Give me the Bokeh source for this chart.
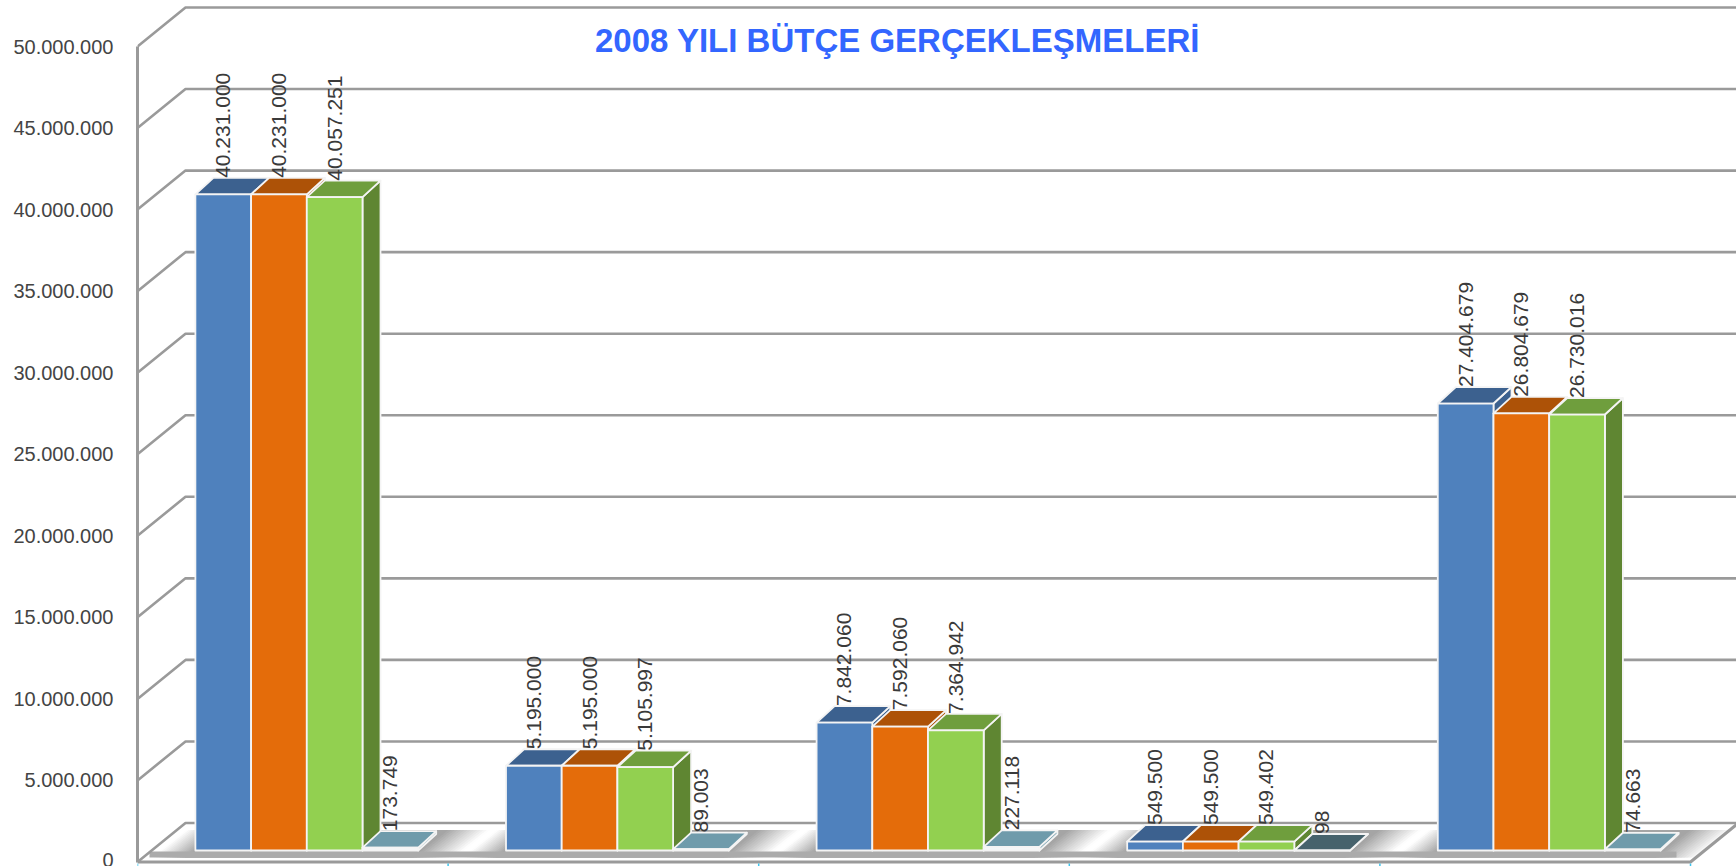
from bokeh.plotting import figure
from bokeh.models import Range1d, FixedTicker, Label
from bokeh.embed import file_html
from bokeh.resources import INLINE
from bokeh.core.properties import value
import math

# ---- data ----
title_text = "2008 YILI BÜTÇE GERÇEKLEŞMELERİ"
categories = [0, 1, 2, 3, 4]
series_a = [40231000, 5195000, 7842060, 549500, 27404679]
series_b = [40231000, 5195000, 7592060, 549500, 26804679]
series_c = [40057251, 5105997, 7364942, 549402, 26730016]
series_d = [173749, 89003, 227118, 98, 74663]
tick_values = [0, 5000000, 10000000, 15000000, 20000000, 25000000,
               30000000, 35000000, 40000000, 45000000, 50000000]

front_colors = ["#4F81BD", "#E46C0A", "#92D050", "#F4F7F8"]
top_colors = ["#3C618F", "#AD5207", "#6F9E3D", "#6F9BAB"]
side_colors = ["#3C618F", "#AD5207", "#5F8632", "#6F9BAB"]
tile_dark = "#46626C"


def fmt(v):
    return f"{v:,}".replace(",", ".")


# ---- scales: pixels per unit of data ----
PX_PER_CAT = 310.6
PX_PER_VAL = 16.31e-6
W, H = 1736, 866
LEFT = 137
ZERO_PX = 861.5


def ux(px):
    return px / PX_PER_CAT


def uy(px):
    return px / PX_PER_VAL


BAR_W = ux(55.7)
BAR_DX, BAR_DV = ux(18), uy(16.5)
PLANE_DX, PLANE_DV = ux(14), uy(11.5)
WALL_DX, WALL_DV = ux(48), uy(39)

p = figure(width=W, height=H, output_backend="svg", toolbar_location=None,
           x_range=Range1d(-0.5, -0.5 + (W - LEFT) / PX_PER_CAT),
           y_range=Range1d(-(H - ZERO_PX) / PX_PER_VAL, ZERO_PX / PX_PER_VAL),
           min_border_left=LEFT, min_border_right=0, min_border_top=0, min_border_bottom=0,
           outline_line_color=None, background_fill_color="white", border_fill_color=None)
p.grid.visible = False
p.xaxis.visible = False

ax = p.yaxis[0]
ax.ticker = FixedTicker(ticks=tick_values)
ax.major_label_overrides = {v: fmt(v) for v in tick_values}
ax.major_label_text_font = "Liberation Sans"
ax.major_label_text_font_size = "20px"
ax.major_label_text_color = "#444444"
ax.major_label_standoff = 18
ax.major_tick_line_color = None
ax.minor_tick_line_color = None
ax.axis_line_color = "#9A9A9A"
ax.axis_line_width = 3
ax.bounds = (0, 50000000)

# ---- floor shadows: soft edges made of nested grey shapes, outermost first ----
STEPS = 14
band_xs, band_ys, band_cols = [], [], []
for i in categories:
    c = i + PLANE_DX
    left = c - 2 * BAR_W
    right = c + 2 * BAR_W
    y_low = uy(4.5)
    y_high = uy(32)
    slant = ux(35)
    for k in range(STEPS, 0, -1):
        l = left + ux(-8 - 2.6 * k)
        r = right + ux(-8 + 3.2 * k)
        g = int(165 + (k - 1) / (STEPS - 1) * 88)
        band_xs.append([l, r, r + slant, l + slant])
        band_ys.append([y_low, y_low, y_high, y_high])
        band_cols.append(f"#{g:02x}{g:02x}{g:02x}")
p.patches(band_xs, band_ys, fill_color=band_cols, line_color=None)

# bottom band of the floor
p.quad(left=[-0.5 + ux(12)], right=[4.5 + ux(-14)], bottom=[uy(4.5)], top=[uy(10.5)],
       fill_color="#ABABAB", line_color=None)

# ---- wall and gridlines ----
grid_xs, grid_ys = [], []
x_end = -0.5 + (W - LEFT) / PX_PER_CAT + 0.1
for v in tick_values:
    grid_xs.append([-0.5, -0.5 + WALL_DX, x_end])
    grid_ys.append([v, v + WALL_DV, v + WALL_DV])
p.multi_line(grid_xs, grid_ys, line_color="#9A9A9A", line_width=2.6)

# front and right floor edges
p.multi_line([[-0.5, 4.5, 4.5 + WALL_DX]], [[0, 0, WALL_DV]], line_color="#9A9A9A", line_width=3)

# category ticks below the floor
p.segment([c - 0.5 for c in categories] + [4.5], [uy(-1.5)] * 6,
          [c - 0.5 for c in categories] + [4.5], [uy(-5)] * 6, line_color="#3CC4EE", line_width=1.5)

# ---- bars ----
xs, ys, fills = [], [], []
lx, ly, lt = [], [], []
for i in categories:
    vals = [series_a[i], series_b[i], series_c[i], series_d[i]]
    for j, v in enumerate(vals):
        x0 = i - 2 * BAR_W + j * BAR_W + PLANE_DX
        x1 = x0 + BAR_W
        y0 = PLANE_DV
        y1 = v + PLANE_DV
        xs.append([x1, x1 + BAR_DX, x1 + BAR_DX, x1])
        ys.append([y0, y0 + BAR_DV, y1 + BAR_DV, y1])
        fills.append(side_colors[j])
        xs.append([x0, x1, x1 + BAR_DX, x0 + BAR_DX])
        ys.append([y1, y1, y1 + BAR_DV, y1 + BAR_DV])
        fills.append(tile_dark if v < 1000 else top_colors[j])
        xs.append([x0, x1, x1, x0])
        ys.append([y0, y0, y1, y1])
        fills.append(front_colors[j])
        lx.append((x0 + x1) / 2)
        ly.append(y1 + BAR_DV)
        lt.append(fmt(v))
p.patches(xs, ys, fill_color=fills, line_color="#F4F4F4", line_width=1.8, line_join="round")

p.text(lx, ly, text=lt, angle=math.pi / 2, text_align="left", text_baseline="middle",
       text_font=value("Liberation Sans"), text_font_size="21px", text_color="#3A3A3A")

p.add_layout(Label(x=897 - LEFT, y=H - 40, x_units="screen", y_units="screen", text=title_text,
                   text_align="center", text_baseline="middle",
                   text_font="Liberation Sans", text_font_style="bold",
                   text_font_size="33px", text_color="#3366FF"))

open("out.html", "w").write(file_html(p, INLINE))
